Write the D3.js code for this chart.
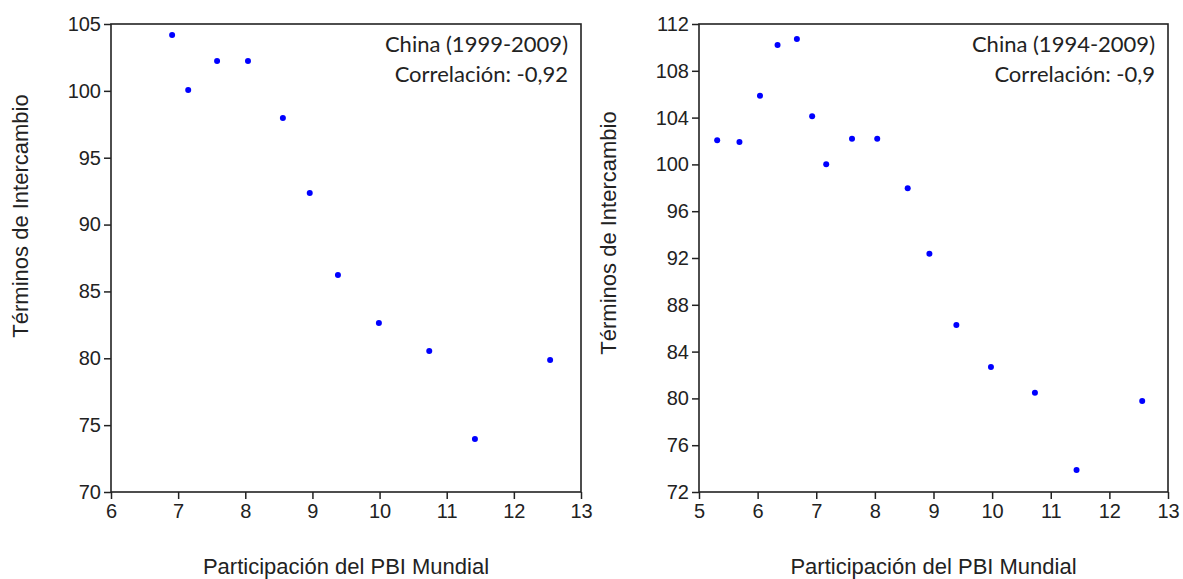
<!DOCTYPE html>
<html>
<head>
<meta charset="utf-8">
<script src="https://cdn.jsdelivr.net/npm/d3@7"></script>
<style>
  body { margin: 0; background: #fff; }
  svg { display: block; }
</style>
</head>
<body>
<svg id="chart"></svg>
<script>
// left panel: China 1999-2009
const leftX = [6.91, 7.15, 7.58, 8.04, 8.56, 8.96, 9.38, 9.99, 10.74, 11.42, 12.54];
const leftY = [104.18, 100.06, 102.23, 102.23, 97.97, 92.36, 86.23, 82.64, 80.54, 73.96, 79.87];
const leftXTicks = [6, 7, 8, 9, 10, 11, 12, 13];
const leftYTicks = [70, 75, 80, 85, 90, 95, 100, 105];
const leftNote = ["China (1999-2009)", "Correlación: -0,92"];

// right panel: China 1994-2009
const rightX = [5.31, 5.69, 6.04, 6.34, 6.67, 6.93, 7.17, 7.61, 8.04, 8.56, 8.93, 9.39, 9.98, 10.73, 11.44, 12.56];
const rightY = [102.06, 101.91, 105.87, 110.2, 110.72, 104.11, 100.01, 102.2, 102.2, 97.96, 92.37, 86.27, 82.68, 80.49, 73.88, 79.78];
const rightXTicks = [5, 6, 7, 8, 9, 10, 11, 12, 13];
const rightYTicks = [72, 76, 80, 84, 88, 92, 96, 100, 104, 108, 112];
const rightNote = ["China (1994-2009)", "Correlación: -0,9"];

const xTitle = "Participación del PBI Mundial";
const yTitle = "Términos de Intercambio";

const width = 1183;
const height = 579;
const arial = "'Liberation Sans', Arial, sans-serif";

const svg = d3.select("#chart")
  .attr("width", width)
  .attr("height", height);

function panel(opts) {
  const { left, right, top, bottom, xs, ys, xTicks, yTicks, note, yTitleX, yTitleY } = opts;

  const x = d3.scaleLinear()
    .domain(d3.extent(xTicks))
    .range([left, right]);
  const y = d3.scaleLinear()
    .domain(d3.extent(yTicks))
    .range([bottom, top]);

  const g = svg.append("g");

  // frame
  g.append("rect")
    .attr("x", left)
    .attr("y", top)
    .attr("width", right - left)
    .attr("height", bottom - top)
    .attr("fill", "none")
    .attr("stroke", "#222")
    .attr("stroke-width", 1.6);

  const xAxis = g.append("g")
    .attr("transform", `translate(0,${bottom})`)
    .call(d3.axisBottom(x).tickValues(xTicks).tickSize(7).tickPadding(5).tickFormat(d3.format("d")));
  const yAxis = g.append("g")
    .attr("transform", `translate(${left},0)`)
    .call(d3.axisLeft(y).tickValues(yTicks).tickSize(7).tickPadding(3).tickFormat(d3.format("d")));

  [xAxis, yAxis].forEach(a => {
    a.select(".domain").remove();
    a.selectAll(".tick line").attr("stroke", "#222").attr("stroke-width", 1.5);
    a.selectAll(".tick text")
      .attr("fill", "#222")
      .style("font-family", arial)
      .style("font-size", "20px");
  });

  // points
  g.selectAll("circle")
    .data(xs.map((v, i) => [v, ys[i]]))
    .enter()
    .append("circle")
    .attr("cx", d => x(d[0]))
    .attr("cy", d => y(d[1]))
    .attr("r", 3)
    .attr("fill", "#0000ff");

  // axis titles
  g.append("text")
    .attr("x", (left + right) / 2)
    .attr("y", 574)
    .attr("text-anchor", "middle")
    .attr("fill", "#222")
    .style("font-family", arial)
    .style("font-size", "22px")
    .text(xTitle);

  g.append("text")
    .attr("transform", `translate(${yTitleX},${yTitleY}) rotate(-90)`)
    .attr("text-anchor", "middle")
    .attr("dy", "0.35em")
    .attr("fill", "#222")
    .style("font-family", arial)
    .style("font-size", "22px")
    .text(yTitle);

  // annotation
  g.append("g")
    .selectAll("text")
    .data(note)
    .enter()
    .append("text")
    .attr("x", right - 13)
    .attr("y", (d, i) => top + 28 + i * 30)
    .attr("fill", "#222")
    .attr("text-anchor", "end")
    .style("font-family", "Lato, 'Open Sans', sans-serif")
    .style("font-size", "22px")
    .text(d => d);
}

panel({ left: 111, right: 581, top: 24, bottom: 492, xs: leftX, ys: leftY, xTicks: leftXTicks, yTicks: leftYTicks, note: leftNote, yTitleX: 20, yTitleY: 216 });
panel({ left: 699, right: 1168, top: 24, bottom: 492, xs: rightX, ys: rightY, xTicks: rightXTicks, yTicks: rightYTicks, note: rightNote, yTitleX: 608, yTitleY: 233 });
</script>
</body>
</html>
